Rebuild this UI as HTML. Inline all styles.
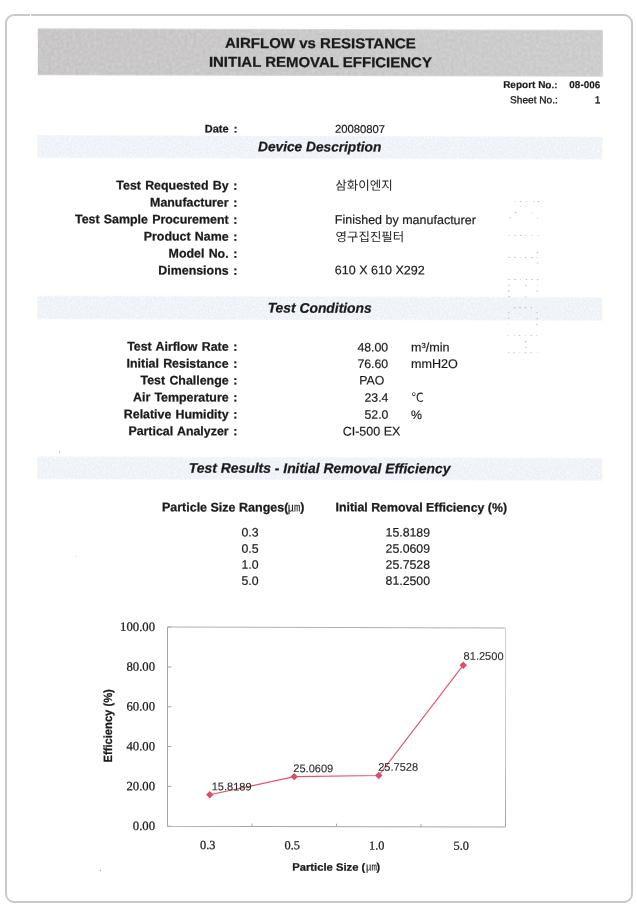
<!DOCTYPE html>
<html><head><meta charset="utf-8"><title>Airflow vs Resistance - Initial Removal Efficiency</title>
<style>
html,body{margin:0;padding:0;background:#fff;}
body{width:637px;height:918px;position:relative;overflow:hidden;font-family:"Liberation Sans",sans-serif;}
.frame{position:absolute;left:5.3px;top:14.2px;width:623.6px;height:884.4px;border:2px solid #c9c9c9;border-radius:9px;box-sizing:content-box;}
.gap{position:absolute;left:29.9px;top:13px;width:1.3px;height:4px;background:#fff;}
svg{position:absolute;left:0;top:0;will-change:transform;}
text{font-family:"Liberation Sans",sans-serif;fill:#1a1a1a;white-space:pre;stroke:#1a1a1a;stroke-width:0.18px;}
.b{font-weight:bold;stroke:#1a1a1a;stroke-width:0.25px;} .i{font-style:italic;}
.s{font-family:"Liberation Serif",serif;stroke-width:0.25px;}
.k{font-family:"Liberation Sans","Noto Sans CJK KR",sans-serif;fill:#242424;stroke:none;}
</style></head><body>
<div class="frame"></div><div class="gap"></div>
<svg width="637" height="918" viewBox="0 0 637 918">
<defs>
<filter id="nb" x="0" y="0" width="100%" height="100%" color-interpolation-filters="sRGB"><feTurbulence type="fractalNoise" baseFrequency="0.7" numOctaves="2" seed="7"/><feColorMatrix type="matrix" values="0 0 0 0 1  0 0 0 0 1  0 0 0 0 1  2.0 0 0 0 -0.72"/><feComposite in2="SourceGraphic" operator="in"/><feMerge><feMergeNode in="SourceGraphic"/><feMergeNode/></feMerge></filter>
<filter id="nh" x="0" y="0" width="100%" height="100%" color-interpolation-filters="sRGB"><feTurbulence type="fractalNoise" baseFrequency="0.33" numOctaves="3" seed="11"/><feColorMatrix type="matrix" values="0 0 0 0 1  0 0 0 0 1  0 0 0 0 1  0.42 0 0 0 -0.13"/><feComposite in2="SourceGraphic" operator="in"/><feMerge><feMergeNode in="SourceGraphic"/><feMergeNode/></feMerge></filter>
<linearGradient id="rg" gradientUnits="userSpaceOnUse" x1="0" x2="0" y1="627" y2="827"><stop offset="0" stop-color="#d2d2d2"/><stop offset="0.6" stop-color="#c8c8c8"/><stop offset="1" stop-color="#a2a2a2"/></linearGradient>
<linearGradient id="hg" x1="0" x2="1" y1="0" y2="0"><stop offset="0" stop-color="#c4c2c3"/><stop offset="1" stop-color="#cac9c9"/></linearGradient></defs>
<g transform="matrix(1,0.0027,0,1,0,-0.8599)">
<rect x="37.8" y="29.25" width="565.0" height="46.55" fill="url(#hg)" filter="url(#nh)"/>
<text x="320.40" y="48.09" font-size="14.3" text-anchor="middle" class="b" textLength="191.0" lengthAdjust="spacingAndGlyphs">AIRFLOW vs RESISTANCE</text>
<text x="320.40" y="66.99" font-size="14.3" text-anchor="middle" class="b" textLength="223.0" lengthAdjust="spacingAndGlyphs">INITIAL REMOVAL EFFICIENCY</text>
<text x="557.60" y="87.54" font-size="10" text-anchor="end" class="b" style="stroke-width:0.15px;">Report No.:</text>
<text x="600.20" y="87.42" font-size="9.9" text-anchor="end" class="b" style="stroke-width:0.15px;">08-006</text>
<text x="557.80" y="102.63" font-size="10.1" text-anchor="end" style="stroke-width:0.33px;">Sheet No.:</text>
<text x="600.40" y="102.52" font-size="10.1" text-anchor="end" style="stroke-width:0.33px;">1</text>
<rect x="37.5" y="136.0" width="564.8" height="22.5" fill="#eaeff7" filter="url(#nb)"/>
<rect x="37.5" y="296.6" width="564.8" height="23.2" fill="#eaeff7" filter="url(#nb)"/>
<rect x="37.5" y="457.4" width="564.8" height="22.4" fill="#eaeff7" filter="url(#nb)"/>
<text x="319.70" y="151.40" font-size="13.7" text-anchor="middle" class="b i">Device Description</text>
<text x="319.70" y="312.70" font-size="13.85" text-anchor="middle" class="b i">Test Conditions</text>
<text x="319.70" y="473.00" font-size="13.9" text-anchor="middle" class="b i">Test Results - Initial Removal Efficiency</text>
<text x="228.60" y="132.82" font-size="11.0" text-anchor="end" class="b" word-spacing="0.8">Date</text>
<text x="237.40" y="132.80" font-size="11.0" text-anchor="end" class="b">:</text>
<text x="334.90" y="132.77" font-size="11.3">20080807</text>
<text x="228.60" y="189.92" font-size="12.4" text-anchor="end" class="b" word-spacing="0.8">Test Requested By</text>
<text x="237.40" y="189.90" font-size="12.4" text-anchor="end" class="b">:</text>
<text x="228.60" y="206.92" font-size="12.4" text-anchor="end" class="b" word-spacing="0.8">Manufacturer</text>
<text x="237.40" y="206.90" font-size="12.4" text-anchor="end" class="b">:</text>
<text x="228.60" y="223.92" font-size="12.4" text-anchor="end" class="b" word-spacing="0.8">Test Sample Procurement</text>
<text x="237.40" y="223.90" font-size="12.4" text-anchor="end" class="b">:</text>
<text x="228.60" y="240.92" font-size="12.4" text-anchor="end" class="b" word-spacing="0.8">Product Name</text>
<text x="237.40" y="240.90" font-size="12.4" text-anchor="end" class="b">:</text>
<text x="228.60" y="257.92" font-size="12.4" text-anchor="end" class="b" word-spacing="0.8">Model No.</text>
<text x="237.40" y="257.90" font-size="12.4" text-anchor="end" class="b">:</text>
<text x="228.60" y="274.92" font-size="12.4" text-anchor="end" class="b" word-spacing="0.8">Dimensions</text>
<text x="237.40" y="274.90" font-size="12.4" text-anchor="end" class="b">:</text>
<text x="334.80" y="223.77" font-size="12.5">Finished by manufacturer</text>
<text x="334.80" y="274.17" font-size="12.55">610 X 610 X292</text>
<text x="228.60" y="351.07" font-size="12.4" text-anchor="end" class="b" word-spacing="0.8">Test Airflow Rate</text>
<text x="237.40" y="351.05" font-size="12.4" text-anchor="end" class="b">:</text>
<text x="228.60" y="368.02" font-size="12.4" text-anchor="end" class="b" word-spacing="0.8">Initial Resistance</text>
<text x="237.40" y="368.00" font-size="12.4" text-anchor="end" class="b">:</text>
<text x="228.60" y="384.82" font-size="12.4" text-anchor="end" class="b" word-spacing="0.8">Test Challenge</text>
<text x="237.40" y="384.80" font-size="12.4" text-anchor="end" class="b">:</text>
<text x="228.60" y="401.82" font-size="12.4" text-anchor="end" class="b" word-spacing="0.8">Air Temperature</text>
<text x="237.40" y="401.80" font-size="12.4" text-anchor="end" class="b">:</text>
<text x="228.60" y="418.82" font-size="12.4" text-anchor="end" class="b" word-spacing="0.8">Relative Humidity</text>
<text x="237.40" y="418.80" font-size="12.4" text-anchor="end" class="b">:</text>
<text x="228.60" y="435.62" font-size="12.4" text-anchor="end" class="b" word-spacing="0.8">Partical Analyzer</text>
<text x="237.40" y="435.60" font-size="12.4" text-anchor="end" class="b">:</text>
<text x="388.20" y="351.39" font-size="12.3" text-anchor="end">48.00</text>
<text x="388.20" y="367.89" font-size="12.3" text-anchor="end">76.60</text>
<text x="371.70" y="384.36" font-size="12.3" text-anchor="middle">PAO</text>
<text x="388.40" y="401.59" font-size="12.3" text-anchor="end">23.4</text>
<text x="388.40" y="418.69" font-size="12.3" text-anchor="end">52.0</text>
<text x="371.50" y="435.36" font-size="12.5" text-anchor="middle">CI-500 EX</text>
<text x="411.00" y="351.27" font-size="12.6">m&#179;/min</text>
<text x="411.00" y="367.77" font-size="12.6">mmH2O</text>
<text x="411.00" y="418.87" font-size="12.3">%</text>
<text x="161.90" y="511.74" font-size="12.5" class="b">Particle Size Ranges(</text>
<text x="300.20" y="511.37" font-size="12.4" class="b">)</text>
<text x="335.50" y="511.27" font-size="12.35" class="b">Initial Removal Efficiency (%)</text>
<text x="250.10" y="536.78" font-size="12.3" text-anchor="middle">0.3</text>
<text x="430.00" y="536.38" font-size="12.3" text-anchor="end">15.8189</text>
<text x="250.10" y="552.88" font-size="12.3" text-anchor="middle">0.5</text>
<text x="430.00" y="552.48" font-size="12.3" text-anchor="end">25.0609</text>
<text x="250.10" y="568.98" font-size="12.3" text-anchor="middle">1.0</text>
<text x="430.00" y="568.58" font-size="12.3" text-anchor="end">25.7528</text>
<text x="250.10" y="585.08" font-size="12.3" text-anchor="middle">5.0</text>
<text x="430.00" y="584.68" font-size="12.3" text-anchor="end">81.2500</text>
<text x="335.3" y="189.7" font-size="12.5" class="k">삼화이엔지</text>
<text x="335.6" y="241.1" font-size="12.45" class="k">영구집진필터</text>
<text x="411.5" y="401.6" font-size="12.3" class="k">℃</text>
<text x="287.8" y="511.7" font-size="12.4" class="k">㎛</text>
<text x="366.0" y="870.4" font-size="10.9" class="k">㎛</text>
<path d="M167.5 627.5H505.5" fill="none" stroke="#b2b2b2" stroke-width="1"/>
<path d="M505.5 627.5V826.6" fill="none" stroke="url(#rg)" stroke-width="1"/>
<path d="M167.5 627.5V826.6H505.5" fill="none" stroke="#a6a6a6" stroke-width="1"/>
<path d="M167.5 826.60h3.8M167.5 786.78h3.8M167.5 746.96h3.8M167.5 707.14h3.8M167.5 667.32h3.8M167.5 627.50h3.8M167.50 826.6v-3M252.00 826.6v-3M336.50 826.6v-3M421.00 826.6v-3M505.50 826.6v-3" stroke="#a6a6a6" stroke-width="1" fill="none"/>
<polyline points="209.75,795.10 294.25,776.70 378.75,775.33 463.25,664.83" fill="none" stroke="#e2566b" stroke-width="1.15"/>
<path d="M209.75 791.40l3.7 3.7l-3.7 3.7l-3.7 -3.7ZM294.25 773.00l3.7 3.7l-3.7 3.7l-3.7 -3.7ZM378.75 771.63l3.7 3.7l-3.7 3.7l-3.7 -3.7ZM463.25 661.13l3.7 3.7l-3.7 3.7l-3.7 -3.7Z" fill="#de4d64"/>
<text x="211.70" y="790.61" font-size="11.05" style="fill:#2a2a2a;stroke:#2a2a2a;stroke-width:0.1px;">15.8189</text>
<text x="293.30" y="772.19" font-size="11.05" style="fill:#2a2a2a;stroke:#2a2a2a;stroke-width:0.1px;">25.0609</text>
<text x="378.20" y="770.56" font-size="11.05" style="fill:#2a2a2a;stroke:#2a2a2a;stroke-width:0.1px;">25.7528</text>
<text x="463.60" y="659.43" font-size="11.05" style="fill:#2a2a2a;stroke:#2a2a2a;stroke-width:0.1px;">81.2500</text>
<text x="155.0" y="830.50" font-size="12.7" class="s" text-anchor="end">0.00</text>
<text x="155.0" y="790.68" font-size="12.7" class="s" text-anchor="end">20.00</text>
<text x="155.0" y="750.86" font-size="12.7" class="s" text-anchor="end">40.00</text>
<text x="155.0" y="711.04" font-size="12.7" class="s" text-anchor="end">60.00</text>
<text x="155.0" y="671.22" font-size="12.7" class="s" text-anchor="end">80.00</text>
<text x="155.0" y="631.40" font-size="12.7" class="s" text-anchor="end">100.00</text>
<text x="207.75" y="849.3" font-size="12.3" class="s" text-anchor="middle">0.3</text>
<text x="292.25" y="849.3" font-size="12.3" class="s" text-anchor="middle">0.5</text>
<text x="376.75" y="849.3" font-size="12.3" class="s" text-anchor="middle">1.0</text>
<text x="461.25" y="849.3" font-size="12.3" class="s" text-anchor="middle">5.0</text>
<text x="292.20" y="870.69" font-size="10.7" class="b" textLength="73.2" lengthAdjust="spacingAndGlyphs">Particle Size (</text>
<text x="376.50" y="870.46" font-size="10.7" class="b">)</text>
<text transform="translate(111.7 726.4) rotate(-90)" font-size="11.9" class="b" text-anchor="middle" textLength="73.3" lengthAdjust="spacingAndGlyphs">Efficiency (%)</text>
<ellipse cx="515.1" cy="201.0" rx="0.9" ry="0.55" fill="#dcdcdc"/><ellipse cx="520.7" cy="201.0" rx="0.9" ry="0.55" fill="#bcbcbc"/><ellipse cx="526.4" cy="201.0" rx="0.9" ry="0.55" fill="#dcdcdc"/><ellipse cx="533.7" cy="201.0" rx="0.9" ry="0.55" fill="#dcdcdc"/><ellipse cx="538.6" cy="201.0" rx="0.9" ry="0.55" fill="#bcbcbc"/><ellipse cx="521.0" cy="205.7" rx="0.9" ry="0.55" fill="#dcdcdc"/><ellipse cx="525.9" cy="205.7" rx="0.9" ry="0.55" fill="#dcdcdc"/><ellipse cx="515.6" cy="212.1" rx="0.9" ry="0.55" fill="#bcbcbc"/><ellipse cx="532.3" cy="212.1" rx="0.9" ry="0.55" fill="#dcdcdc"/><ellipse cx="510.2" cy="217.3" rx="0.9" ry="0.55" fill="#bcbcbc"/><ellipse cx="537.6" cy="217.3" rx="0.9" ry="0.55" fill="#dcdcdc"/><ellipse cx="509.2" cy="234.9" rx="0.9" ry="0.55" fill="#dcdcdc"/><ellipse cx="515.1" cy="234.9" rx="0.9" ry="0.55" fill="#bcbcbc"/><ellipse cx="520.7" cy="234.9" rx="0.9" ry="0.55" fill="#bcbcbc"/><ellipse cx="525.9" cy="234.9" rx="0.9" ry="0.55" fill="#dcdcdc"/><ellipse cx="531.8" cy="234.9" rx="0.9" ry="0.55" fill="#dcdcdc"/><ellipse cx="538.1" cy="234.9" rx="0.9" ry="0.55" fill="#dcdcdc"/><ellipse cx="537.4" cy="251.8" rx="0.9" ry="0.55" fill="#bcbcbc"/><ellipse cx="509.2" cy="257.0" rx="0.9" ry="0.55" fill="#bcbcbc"/><ellipse cx="515.1" cy="257.0" rx="0.9" ry="0.55" fill="#bcbcbc"/><ellipse cx="520.5" cy="257.0" rx="0.9" ry="0.55" fill="#dcdcdc"/><ellipse cx="525.9" cy="257.0" rx="0.9" ry="0.55" fill="#bcbcbc"/><ellipse cx="531.8" cy="257.0" rx="0.9" ry="0.55" fill="#bcbcbc"/><ellipse cx="536.7" cy="257.0" rx="0.9" ry="0.55" fill="#dcdcdc"/><ellipse cx="537.6" cy="262.4" rx="0.9" ry="0.55" fill="#bcbcbc"/><ellipse cx="509.2" cy="279.0" rx="0.9" ry="0.55" fill="#bcbcbc"/><ellipse cx="515.1" cy="279.0" rx="0.9" ry="0.55" fill="#bcbcbc"/><ellipse cx="520.5" cy="279.0" rx="0.9" ry="0.55" fill="#dcdcdc"/><ellipse cx="526.4" cy="279.0" rx="0.9" ry="0.55" fill="#bcbcbc"/><ellipse cx="531.8" cy="279.0" rx="0.9" ry="0.55" fill="#bcbcbc"/><ellipse cx="537.6" cy="279.0" rx="0.9" ry="0.55" fill="#bcbcbc"/><ellipse cx="509.2" cy="284.7" rx="0.9" ry="0.55" fill="#bcbcbc"/><ellipse cx="525.9" cy="284.7" rx="0.9" ry="0.55" fill="#bcbcbc"/><ellipse cx="537.6" cy="284.7" rx="0.9" ry="0.55" fill="#dcdcdc"/><ellipse cx="508.7" cy="290.4" rx="0.9" ry="0.55" fill="#bcbcbc"/><ellipse cx="537.2" cy="290.4" rx="0.9" ry="0.55" fill="#bcbcbc"/><ellipse cx="509.2" cy="296.0" rx="0.9" ry="0.55" fill="#bcbcbc"/><ellipse cx="525.4" cy="296.0" rx="0.9" ry="0.55" fill="#dcdcdc"/><ellipse cx="514.6" cy="307.1" rx="0.9" ry="0.55" fill="#bcbcbc"/><ellipse cx="520.0" cy="307.1" rx="0.9" ry="0.55" fill="#bcbcbc"/><ellipse cx="525.6" cy="307.1" rx="0.9" ry="0.55" fill="#bcbcbc"/><ellipse cx="531.3" cy="307.1" rx="0.9" ry="0.55" fill="#bcbcbc"/><ellipse cx="508.7" cy="312.2" rx="0.9" ry="0.55" fill="#bcbcbc"/><ellipse cx="537.2" cy="312.2" rx="0.9" ry="0.55" fill="#bcbcbc"/><ellipse cx="508.7" cy="318.0" rx="0.9" ry="0.55" fill="#bcbcbc"/><ellipse cx="537.2" cy="318.0" rx="0.9" ry="0.55" fill="#bcbcbc"/><ellipse cx="508.2" cy="323.7" rx="0.9" ry="0.55" fill="#dcdcdc"/><ellipse cx="536.9" cy="323.7" rx="0.9" ry="0.55" fill="#bcbcbc"/><ellipse cx="508.2" cy="334.7" rx="0.9" ry="0.55" fill="#dcdcdc"/><ellipse cx="514.6" cy="334.7" rx="0.9" ry="0.55" fill="#dcdcdc"/><ellipse cx="519.5" cy="334.7" rx="0.9" ry="0.55" fill="#bcbcbc"/><ellipse cx="525.6" cy="334.7" rx="0.9" ry="0.55" fill="#dcdcdc"/><ellipse cx="531.3" cy="334.7" rx="0.9" ry="0.55" fill="#bcbcbc"/><ellipse cx="536.7" cy="334.7" rx="0.9" ry="0.55" fill="#dcdcdc"/><ellipse cx="525.6" cy="341.1" rx="0.9" ry="0.55" fill="#bcbcbc"/><ellipse cx="525.9" cy="347.0" rx="0.9" ry="0.55" fill="#bcbcbc"/><ellipse cx="508.7" cy="352.2" rx="0.9" ry="0.55" fill="#bcbcbc"/><ellipse cx="514.1" cy="352.2" rx="0.9" ry="0.55" fill="#bcbcbc"/><ellipse cx="519.5" cy="352.2" rx="0.9" ry="0.55" fill="#dcdcdc"/><ellipse cx="525.4" cy="352.2" rx="0.9" ry="0.55" fill="#bcbcbc"/><ellipse cx="531.3" cy="352.2" rx="0.9" ry="0.55" fill="#bcbcbc"/><ellipse cx="537.6" cy="352.2" rx="0.9" ry="0.55" fill="#dcdcdc"/>
<circle cx="59.5" cy="452.5" r="0.6" fill="#999"/><circle cx="76" cy="557" r="0.5" fill="#bbb"/><circle cx="100.5" cy="871" r="0.6" fill="#aaa"/>
</g>
</svg>
</body></html>
